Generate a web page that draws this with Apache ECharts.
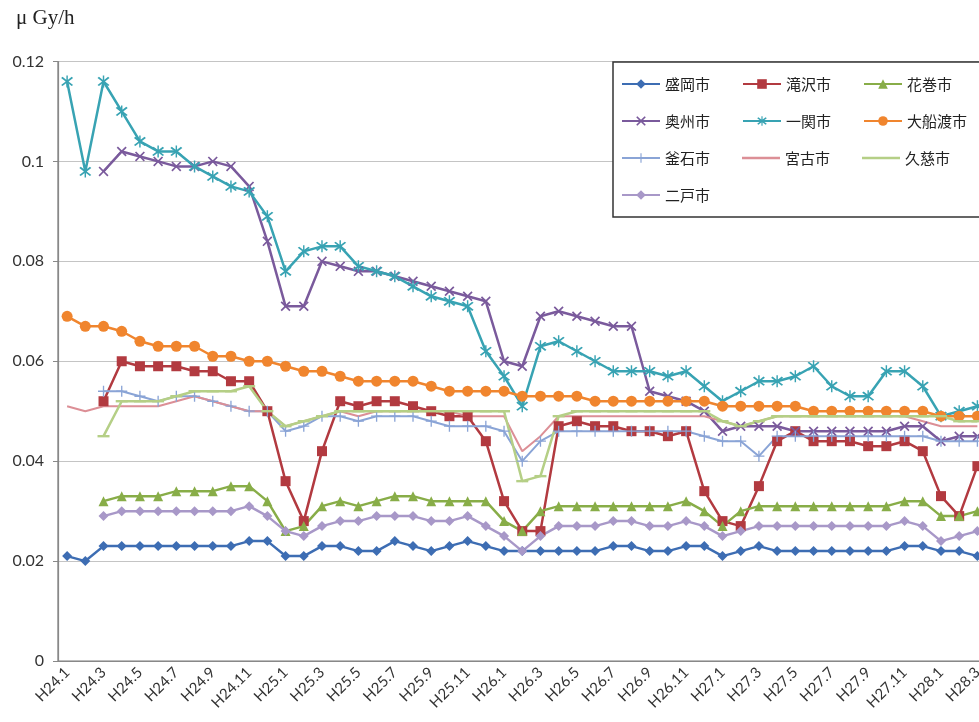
<!DOCTYPE html>
<html><head><meta charset="utf-8">
<script src="https://cdn.jsdelivr.net/npm/echarts@6/dist/echarts.min.js"></script>
<style>html,body{margin:0;padding:0;background:#fff}#c{width:979px;height:722px}</style>
</head><body><div id="c"></div>
<script>
const categories = ['H24.1','H24.2','H24.3','H24.4','H24.5','H24.6','H24.7','H24.8','H24.9','H24.10','H24.11','H24.12',
 'H25.1','H25.2','H25.3','H25.4','H25.5','H25.6','H25.7','H25.8','H25.9','H25.10','H25.11','H25.12',
 'H26.1','H26.2','H26.3','H26.4','H26.5','H26.6','H26.7','H26.8','H26.9','H26.10','H26.11','H26.12',
 'H27.1','H27.2','H27.3','H27.4','H27.5','H27.6','H27.7','H27.8','H27.9','H27.10','H27.11','H27.12',
 'H28.1','H28.2','H28.3'];
const morioka = [0.021,0.020,0.023,0.023,0.023,0.023,0.023,0.023,0.023,0.023,
 0.024,0.024,0.021,0.021,0.023,0.023,0.022,0.022,0.024,0.023,
 0.022,0.023,0.024,0.023,0.022,0.022,0.022,0.022,0.022,0.022,
 0.023,0.023,0.022,0.022,0.023,0.023,0.021,0.022,0.023,0.022,
 0.022,0.022,0.022,0.022,0.022,0.022,0.023,0.023,0.022,0.022,0.021];
const takizawa = [null,null,0.052,0.060,0.059,0.059,0.059,0.058,0.058,0.056,
 0.056,0.050,0.036,0.028,0.042,0.052,0.051,0.052,0.052,0.051,
 0.050,0.049,0.049,0.044,0.032,0.026,0.026,0.047,0.048,0.047,
 0.047,0.046,0.046,0.045,0.046,0.034,0.028,0.027,0.035,0.044,
 0.046,0.044,0.044,0.044,0.043,0.043,0.044,0.042,0.033,0.029,0.039];
const hanamaki = [null,null,0.032,0.033,0.033,0.033,0.034,0.034,0.034,0.035,
 0.035,0.032,0.026,0.027,0.031,0.032,0.031,0.032,0.033,0.033,
 0.032,0.032,0.032,0.032,0.028,0.026,0.030,0.031,0.031,0.031,
 0.031,0.031,0.031,0.031,0.032,0.030,0.027,0.030,0.031,0.031,
 0.031,0.031,0.031,0.031,0.031,0.031,0.032,0.032,0.029,0.029,0.030];
const oshu = [null,null,0.098,0.102,0.101,0.100,0.099,0.099,0.100,0.099,
 0.095,0.084,0.071,0.071,0.080,0.079,0.078,0.078,0.077,0.076,
 0.075,0.074,0.073,0.072,0.060,0.059,0.069,0.070,0.069,0.068,
 0.067,0.067,0.054,0.053,0.052,0.050,0.046,0.047,0.047,0.047,
 0.046,0.046,0.046,0.046,0.046,0.046,0.047,0.047,0.044,0.045,0.045];
const ichinoseki = [0.116,0.098,0.116,0.110,0.104,0.102,0.102,0.099,0.097,0.095,
 0.094,0.089,0.078,0.082,0.083,0.083,0.079,0.078,0.077,0.075,
 0.073,0.072,0.071,0.062,0.057,0.051,0.063,0.064,0.062,0.060,
 0.058,0.058,0.058,0.057,0.058,0.055,0.052,0.054,0.056,0.056,
 0.057,0.059,0.055,0.053,0.053,0.058,0.058,0.055,0.049,0.050,0.051];
const ofunato = [0.069,0.067,0.067,0.066,0.064,0.063,0.063,0.063,0.061,0.061,
 0.060,0.060,0.059,0.058,0.058,0.057,0.056,0.056,0.056,0.056,
 0.055,0.054,0.054,0.054,0.054,0.053,0.053,0.053,0.053,0.052,
 0.052,0.052,0.052,0.052,0.052,0.052,0.051,0.051,0.051,0.051,
 0.051,0.050,0.050,0.050,0.050,0.050,0.050,0.050,0.049,0.049,0.049];
const kamaishi = [null,null,0.054,0.054,0.053,0.052,0.053,0.053,0.052,0.051,
 0.050,0.050,0.046,0.047,0.049,0.049,0.048,0.049,0.049,0.049,
 0.048,0.047,0.047,0.047,0.046,0.040,0.044,0.046,0.046,0.046,
 0.046,0.046,0.046,0.046,0.046,0.045,0.044,0.044,0.041,0.045,
 0.045,0.045,0.045,0.045,0.045,0.045,0.045,0.045,0.044,0.044,0.044];
const miyako = [0.051,0.050,0.051,0.051,0.051,0.051,0.052,0.053,0.052,0.051,
 0.050,0.050,0.047,0.048,0.049,0.050,0.049,0.050,0.050,0.050,
 0.050,0.050,0.049,0.049,0.049,0.042,0.045,0.049,0.049,0.049,
 0.049,0.049,0.049,0.049,0.049,0.049,0.048,0.047,0.048,0.049,
 0.049,0.049,0.049,0.049,0.049,0.049,0.049,0.048,0.047,0.047,0.047];
const kuji = [null,null,0.045,0.052,0.052,0.052,0.053,0.054,0.054,0.054,
 0.055,0.050,0.047,0.048,0.049,0.050,0.050,0.050,0.050,0.050,
 0.050,0.050,0.050,0.050,0.050,0.036,0.037,0.049,0.050,0.050,
 0.050,0.050,0.050,0.050,0.050,0.050,0.048,0.047,0.048,0.049,
 0.049,0.049,0.049,0.049,0.049,0.049,0.049,0.049,0.049,0.048,0.048];
const ninohe = [null,null,0.029,0.030,0.030,0.030,0.030,0.030,0.030,0.030,
 0.031,0.029,0.026,0.025,0.027,0.028,0.028,0.029,0.029,0.029,
 0.028,0.028,0.029,0.027,0.025,0.022,0.025,0.027,0.027,0.027,
 0.028,0.028,0.027,0.027,0.028,0.027,0.025,0.026,0.027,0.027,
 0.027,0.027,0.027,0.027,0.027,0.027,0.028,0.027,0.024,0.025,0.026];
const yTicks = [0, 0.02, 0.04, 0.06, 0.08, 0.1, 0.12];
const unitLabel = 'μ Gy/h';

const X_PATH = 'path://M0,1.2L1.2,0L5,3.8L8.8,0L10,1.2L6.2,5L10,8.8L8.8,10L5,6.2L1.2,10L0,8.8L3.8,5Z';
const AST_PATH = 'path://M0,1.2L1.2,0L5,3.8L8.8,0L10,1.2L6.2,5L10,8.8L8.8,10L5,6.2L1.2,10L0,8.8L3.8,5Z M4.4,-1.5L5.6,-1.5L5.6,11.5L4.4,11.5Z';
const PLUS_PATH = 'path://M4.4,0L5.6,0L5.6,4.4L10,4.4L10,5.6L5.6,5.6L5.6,10L4.4,10L4.4,5.6L0,5.6L0,4.4L4.4,4.4Z';
const DASH_PATH = 'path://M0,0L12,0L12,2.4L0,2.4Z';
const LINE_ICON = 'path://M0,0L38,0L38,2.4L0,2.4Z';

function mk(name, data, color, symbol, size, lw) {
  return {
    name, type: 'line', data,
    symbol, symbolSize: size, showSymbol: symbol !== 'none',
    lineStyle: { color, width: lw || 2.5 },
    itemStyle: { color },
    emphasis: { disabled: true },
    animation: false
  };
}

const chart = echarts.init(document.getElementById('c'), null, { renderer: 'canvas' });
chart.setOption({
  animation: false,
  backgroundColor: '#ffffff',
  grid: { left: 58, top: 61.5, width: 928.5, bottom: 61, outerBoundsMode: 'none', containLabel: false,
          show: true, borderColor: '#7a7a7a', borderWidth: 1.2, backgroundColor: 'transparent' },
  graphic: [{ type: 'text', left: 16, top: 8, style: { text: unitLabel, font: '21px "Liberation Serif", "DejaVu Serif", serif', fill: '#222' } }],
  legend: {
    left: 613, top: 62, width: 350,
    padding: [12, 14, 12, 8],
    itemGap: 17, itemWidth: 38, itemHeight: 12,
    backgroundColor: '#fff', borderColor: '#333', borderWidth: 1.5,
    textStyle: { fontFamily: '"Noto Sans CJK JP"', fontSize: 15, color: '#222', width: 60, lineHeight: 20 },
    data: ['盛岡市','滝沢市','花巻市','奥州市','一関市','大船渡市','釜石市',
      { name: '宮古市', icon: LINE_ICON }, { name: '久慈市', icon: LINE_ICON }, '二戸市']
  },
  xAxis: {
    type: 'category', data: categories, boundaryGap: true,
    axisLine: { lineStyle: { color: '#888', width: 1.2 } },
    axisTick: { interval: 0, length: 5, lineStyle: { color: '#888' } },
    axisLabel: { interval: 1, rotate: 45, margin: 9, color: '#333', fontFamily: 'Lato', fontSize: 15 }
  },
  yAxis: {
    type: 'value', min: yTicks[0], max: yTicks[yTicks.length-1], interval: 0.02,
    axisLine: { show: true, lineStyle: { color: '#888', width: 1.2 } },
    axisTick: { show: true, length: 5, lineStyle: { color: '#888' } },
    axisLabel: { color: '#333', fontFamily: 'Lato', fontSize: 16, margin: 14 },
    splitLine: { lineStyle: { color: '#c4c4c4', width: 1.2 } }
  },
  series: [
    mk('盛岡市', morioka, '#3d6db3', 'diamond', 10),
    mk('滝沢市', takizawa, '#b23a40', 'rect', 10),
    mk('花巻市', hanamaki, '#88ad48', 'triangle', 10),
    mk('奥州市', oshu, '#7a5a9c', X_PATH, 10),
    mk('一関市', ichinoseki, '#38a3b3', AST_PATH, 12),
    mk('大船渡市', ofunato, '#f0852e', 'circle', 11),
    mk('釜石市', kamaishi, '#8aa4d6', PLUS_PATH, 11, 2),
    mk('宮古市', miyako, '#dc8f96', 'none', 0, 2),
    mk('久慈市', kuji, '#b5cf86', DASH_PATH, [12, 2.4], 2.5),
    mk('二戸市', ninohe, '#a898c8', 'diamond', 10)
  ]
});
</script></body></html>
